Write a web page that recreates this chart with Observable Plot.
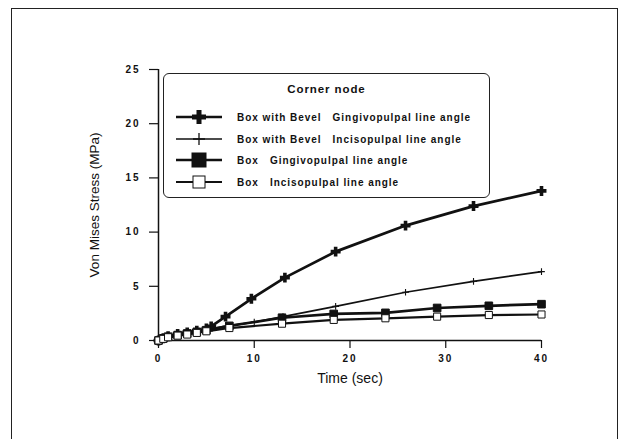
<!DOCTYPE html>
<html>
<head>
<meta charset="utf-8">
<script src="https://cdn.jsdelivr.net/npm/d3@7"></script>
<script src="https://cdn.jsdelivr.net/npm/@observablehq/plot@0.6"></script>
<style>
  html, body { margin: 0; padding: 0; background: #fff; }
  #wrap { position: relative; width: 625px; height: 439px; overflow: hidden; font-family: "Liberation Sans", Arial, sans-serif; }
  #frame { position: absolute; left: 11px; top: 8px; width: 607px; height: 440px; border: 1.5px solid #222; border-bottom: none; box-sizing: border-box; }
  #chart { position: absolute; left: 0; top: 0; }
  .ax text { font-weight: bold; font-size: 10px; letter-spacing: 2px; fill: #111; }
  .ylab text, .xlab text { font-weight: normal; fill: #111; }
  #legend { position: absolute; left: 163px; top: 73px; width: 327px; height: 125px; border: 1.5px solid #222; border-radius: 6px; box-sizing: border-box; background: #fff; }
  #legend .ttl { position: absolute; left: 0; width: 100%; top: 9px; text-align: center; font-weight: bold; font-size: 11.5px; letter-spacing: 0.9px; color: #111; }
  #legend .row { position: absolute; left: 10px; height: 16px; display: flex; align-items: center; }
  #legend .row span { margin-left: 13px; font-weight: bold; font-size: 10px; letter-spacing: 0.95px; color: #111; white-space: pre; }
</style>
</head>
<body>
<div id="wrap">
  <div id="frame"></div>
  <div id="chart"></div>
  <div id="legend"></div>
</div>
<script>
// Von Mises stress (MPa) over time (sec) at the corner node
const timeBevel = [0, 0.5, 1, 2, 3, 4, 5, 5.5, 7, 9.7, 13.2, 18.5, 25.8, 32.9, 40];
const bevelGingivo = [0, 0.2, 0.4, 0.6, 0.75, 0.9, 1.1, 1.3, 2.2, 3.85, 5.8, 8.2, 10.6, 12.4, 13.8];
const bevelIncisoTime = [0, 0.5, 1, 2, 3, 4, 5, 7, 10, 13, 18.5, 25.8, 32.9, 40];
const bevelIncisal = [0, 0.2, 0.35, 0.55, 0.7, 0.85, 1.0, 1.3, 1.7, 2.2, 3.15, 4.45, 5.45, 6.35];
const timeBox = [0, 0.5, 1, 2, 3, 4, 5, 7.4, 12.9, 18.3, 23.7, 29.1, 34.5, 40];
const boxGingivo = [0, 0.2, 0.35, 0.5, 0.65, 0.8, 0.95, 1.35, 2.1, 2.45, 2.55, 3.0, 3.2, 3.35];
const boxIncisal = [0, 0.15, 0.3, 0.45, 0.55, 0.7, 0.85, 1.15, 1.55, 1.9, 2.05, 2.2, 2.35, 2.4];

const seriesNames = [
  "Box with Bevel   Gingivopulpal line angle",
  "Box with Bevel   Incisopulpal line angle",
  "Box   Gingivopulpal line angle",
  "Box   Incisopulpal line angle"
];
const xTicks = [0, 10, 20, 30, 40];
const yTicks = [0, 5, 10, 15, 20, 25];

const toRows = (ts, vs) => ts.map((t, i) => ({t, v: vs[i]}));
const s1 = toRows(timeBevel, bevelGingivo);
const s2 = toRows(bevelIncisoTime, bevelIncisal);
const s3 = toRows(timeBox, boxGingivo);
const s4 = toRows(timeBox, boxIncisal);

// marker/line styling per series
const styles = [
  {lineWidth: 2.7, symbol: "plus", r: 3.3, mStroke: 3.6, fill: "none"},
  {lineWidth: 1.7, symbol: "plus", r: 2.3, mStroke: 1.1, fill: "none"},
  {lineWidth: 2.7, symbol: "square", r: 4.3, mStroke: 1, fill: "#111"},
  {lineWidth: 2.2, symbol: "square", r: 4.0, mStroke: 1, fill: "#fff"}
];
const data = [s1, s2, s3, s4];

const marks = [];
data.forEach((d, i) => {
  const st = styles[i];
  marks.push(Plot.line(d, {x: "t", y: "v", stroke: "#111", strokeWidth: st.lineWidth}));
});
data.forEach((d, i) => {
  const st = styles[i];
  marks.push(Plot.dot(d, {x: "t", y: "v", symbol: () => st.symbol, r: st.r, stroke: "#111", strokeWidth: st.mStroke, fill: st.fill}));
});

const chart = Plot.plot({
  width: 625,
  height: 439,
  marginLeft: 158,
  marginRight: 84,
  marginTop: 69,
  marginBottom: 99,
  style: {background: "transparent", fontFamily: "'Liberation Sans', Arial, sans-serif", color: "#111"},
  x: {domain: [0, 40]},
  y: {domain: [0, 25]},
  symbol: {type: "identity"},
  marks: [
    Plot.axisY({ticks: yTicks, tickSize: 9, tickPadding: 9, tickFormat: d => String(d), className: "ax", label: null, strokeWidth: 1.2}),
    Plot.axisX({ticks: xTicks, tickSize: 8, tickPadding: 6, tickFormat: d => String(d), className: "ax", label: null, strokeWidth: 1.2}),
    Plot.ruleX([0], {stroke: "#111", strokeWidth: 1.5}),
    Plot.ruleY([0], {stroke: "#111", strokeWidth: 1.5}),
    Plot.axisY({ticks: [], tickSize: 0, label: "Von Mises Stress (MPa)", labelAnchor: "center", labelOffset: 69, labelArrow: "none", className: "ylab", fontSize: 13.5}),
    Plot.axisX({ticks: [], tickSize: 0, label: "Time (sec)", labelAnchor: "center", labelOffset: 42, labelArrow: "none", className: "xlab", fontSize: 14}),
    ...marks
  ]
});
d3.select(chart).selectAll(".xlab text").style("letter-spacing", "2.6px");
document.getElementById("chart").appendChild(chart);

// legend box
const legend = d3.select("#legend");
legend.append("div").attr("class", "ttl").text("Corner node");
const rowTops = [35, 57, 78, 100];
seriesNames.forEach((name, i) => {
  const st = styles[i];
  const row = legend.append("div").attr("class", "row").style("top", rowTops[i] + "px");
  const svg = row.append("svg").attr("width", 50).attr("height", 16);
  svg.append("line").attr("x1", 2).attr("x2", 48).attr("y1", 8).attr("y2", 8)
    .attr("stroke", "#111").attr("stroke-width", st.lineWidth);
  if (st.symbol === "plus") {
    const h = i === 0 ? 7 : 6;
    svg.append("path").attr("d", `M25,${8 - h}V${8 + h}M${25 - h},8H${25 + h}`)
      .attr("stroke", "#111").attr("stroke-width", i === 0 ? 5 : 1.3);
  } else {
    const s = i === 2 ? 14 : 12;
    svg.append("rect").attr("x", 25 - s / 2).attr("y", 8 - s / 2).attr("width", s).attr("height", s)
      .attr("fill", st.fill).attr("stroke", "#111").attr("stroke-width", 1);
  }
  row.append("span").text(name);
});
</script>
</body>
</html>
